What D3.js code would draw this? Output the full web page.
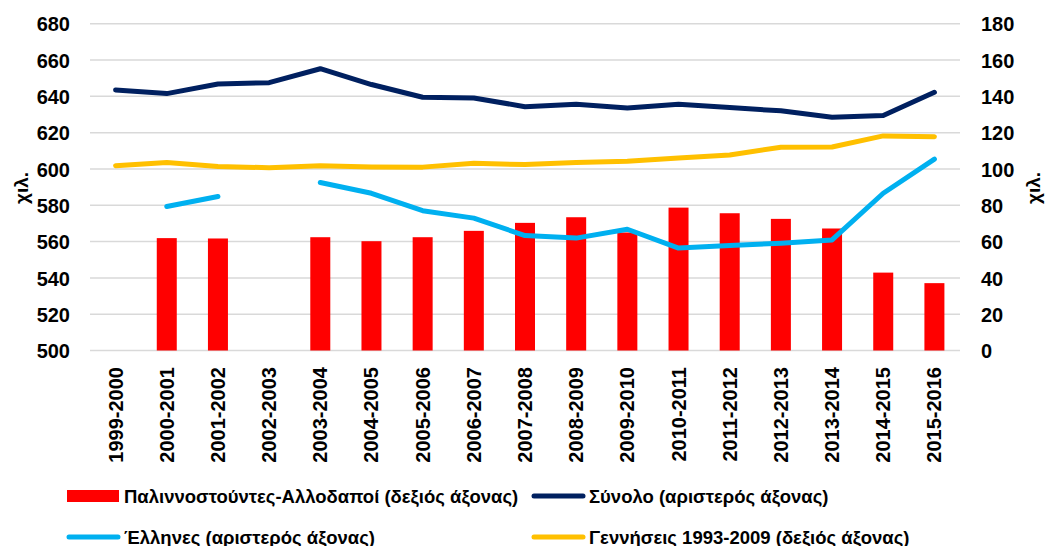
<!DOCTYPE html>
<meta charset="utf-8">
<script src="https://d3js.org/d3.v7.min.js"></script>
<style>
	body{margin:0;background:#fff;}
	text{font-family:"Liberation Sans",Arial,sans-serif;font-weight:bold;fill:#000;}
</style>
<div id="chart"></div>
<script>

// categories and series (thousands)
var years = ["1999-2000","2000-2001","2001-2002","2002-2003","2003-2004","2004-2005","2005-2006","2006-2007","2007-2008","2008-2009","2009-2010","2010-2011","2011-2012","2012-2013","2013-2014","2014-2015","2015-2016"]
// bars, right axis
var returnees = [null,61.9,61.7,null,62.4,60.2,62.4,65.9,70.3,73.4,65,78.7,75.6,72.5,67.2,42.9,37.1]
// left axis
var total = [643.5,641.5,646.8,647.5,655.2,646.5,639.5,639.1,634.3,635.6,633.6,635.6,633.8,632,628.5,629.4,642.2]
var greeks = [null,579.3,584.8,null,592.5,586.6,577,572.9,563.3,561.9,566.8,556.4,557.8,559.1,560.9,586.6,605.4]
// right axis
var births = [101.8,103.5,101.3,100.7,101.8,101.1,101,103.1,102.4,103.5,104.2,106,107.7,112,112.1,118.2,117.8]

var leftTicks = d3.range(500,681,20)
var rightTicks = d3.range(0,181,20)

var width = 1045, height = 546
var plot = {left:90, right:960, top:23.7, bottom:350.5}

var svg = d3.select("#chart").append("svg")
	.attr("width",width).attr("height",height)

var x = d3.scaleBand().domain(years).range([plot.left,plot.right])
var yL = d3.scaleLinear().domain([500,680]).range([plot.bottom,plot.top])
var yR = d3.scaleLinear().domain([0,180]).range([plot.bottom,plot.top])

// gridlines
svg.append("g").selectAll("line").data(leftTicks).join("line")
	.attr("x1",plot.left).attr("x2",plot.right)
	.attr("y1",d=>yL(d)).attr("y2",d=>yL(d))
	.attr("stroke","#d9d9d9").attr("stroke-width",1.5)

// left axis
var axL = svg.append("g").attr("transform","translate(70,0)")
	.call(d3.axisLeft(yL).tickValues(leftTicks).tickSize(0).tickPadding(0))
axL.select(".domain").remove()
axL.selectAll("text").attr("font-size",20).attr("font-family",null).attr("dy","0.36em")

// right axis
var axR = svg.append("g").attr("transform","translate(981,0)")
	.call(d3.axisRight(yR).tickValues(rightTicks).tickSize(0).tickPadding(0))
axR.select(".domain").remove()
axR.selectAll("text").attr("font-size",20).attr("font-family",null).attr("dy","0.36em")

// x labels
svg.append("g").selectAll("text").data(years).join("text")
	.attr("transform",d=>"translate("+(x(d)+x.bandwidth()/2+7)+",367) rotate(-90)")
	.attr("text-anchor","end")
	.attr("font-size",20)
	.text(d=>d)

// axis titles
svg.append("text").attr("transform","translate(28,188) rotate(-90)")
	.attr("text-anchor","middle").attr("font-size",19).text("χιλ.")
svg.append("text").attr("transform","translate(1040,188) rotate(-90)")
	.attr("text-anchor","middle").attr("font-size",19).text("χιλ.")

// bars
var bw = 20
svg.append("g").selectAll("rect").data(years.map((d,i)=>({y:d,v:returnees[i]})).filter(d=>d.v!=null)).join("rect")
	.attr("x",d=>x(d.y)+x.bandwidth()/2-bw/2)
	.attr("width",bw)
	.attr("y",d=>yR(d.v))
	.attr("height",d=>yR(0)-yR(d.v))
	.attr("fill","#ff0000")

function drawLine(values,scale,color){
	var line = d3.line()
		.defined(d=>d!=null)
		.x((d,i)=>x(years[i])+x.bandwidth()/2)
		.y(d=>scale(d))
	svg.append("path")
		.datum(values)
		.attr("fill","none")
		.attr("stroke",color)
		.attr("stroke-width",5)
		.attr("stroke-linecap","round")
		.attr("stroke-linejoin","round")
		.attr("d",line)
}

drawLine(births,yR,"#ffc000")
drawLine(greeks,yL,"#00b0f0")
drawLine(total,yL,"#002060")

// legend
var legend = [
	{label:"Παλιννοστούντες-Αλλοδαποί (δεξιός άξονας)",type:"rect",color:"#ff0000",x:67,y:496},
	{label:"Σύνολο (αριστερός άξονας)",type:"line",color:"#002060",x:532,y:496},
	{label:"Έλληνες (αριστερός άξονας)",type:"line",color:"#00b0f0",x:67,y:537},
	{label:"Γεννήσεις 1993-2009 (δεξιός άξονας)",type:"line",color:"#ffc000",x:532,y:537}
]
legend.forEach(function(l){
	if(l.type=="rect"){
		svg.append("rect").attr("x",l.x).attr("y",l.y-6).attr("width",52).attr("height",12).attr("fill",l.color)
	}else{
		svg.append("line").attr("x1",l.x+2).attr("x2",l.x+51).attr("y1",l.y).attr("y2",l.y)
			.attr("stroke",l.color).attr("stroke-width",5).attr("stroke-linecap","round")
	}
	svg.append("text").attr("x",l.x+57).attr("y",l.y).attr("dy","0.36em")
		.attr("font-size",18.5).text(l.label)
})

</script>
